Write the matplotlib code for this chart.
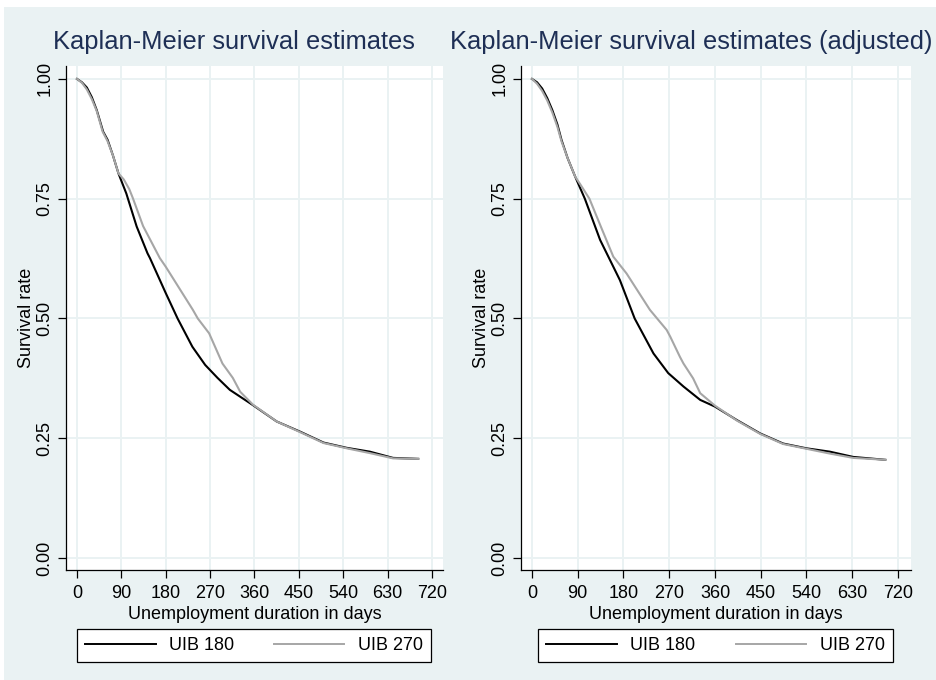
import numpy as np
import matplotlib.pyplot as plt
from matplotlib.patches import Rectangle

plt.rcParams['font.family'] = ['Liberation Sans', 'DejaVu Sans']

BG = '#EAF2F3'
NAVY = '#1E2F55'
GRAY = '#A6A6A6'

# Kaplan-Meier estimates (days, survival) by benefit entitlement
km_days_180 = [0, 10, 20, 30, 40, 53, 62, 73, 84, 100, 121, 143, 148, 180, 204,
               234, 260, 285, 310, 357, 405, 452, 500, 547, 594, 641, 692]
km_surv_180 = [1.0, 0.993, 0.982, 0.962, 0.935, 0.890, 0.873, 0.840, 0.803, 0.761,
               0.692, 0.636, 0.626, 0.553, 0.500, 0.441, 0.403, 0.376, 0.351, 0.319,
               0.285, 0.264, 0.241, 0.230, 0.222, 0.209, 0.207]
km_days_270 = [0, 10, 20, 30, 40, 52, 62, 73, 84, 95, 106, 113, 134, 168, 180,
               235, 245, 268, 295, 316, 331, 357, 405, 452, 500, 547, 594, 641, 692]
km_surv_270 = [1.0, 0.992, 0.978, 0.958, 0.933, 0.890, 0.870, 0.840, 0.803, 0.790,
               0.770, 0.752, 0.693, 0.626, 0.608, 0.518, 0.500, 0.469, 0.406, 0.376,
               0.347, 0.320, 0.285, 0.263, 0.240, 0.229, 0.219, 0.208, 0.207]

# adjusted estimates
adj_days_180 = [0, 10, 20, 30, 40, 50, 58, 70, 85, 104, 134, 173, 202, 239, 268,
                298, 331, 360, 403, 449, 494, 540, 586, 632, 695]
adj_surv_180 = [1.0, 0.993, 0.980, 0.960, 0.935, 0.905, 0.873, 0.835, 0.796, 0.750,
                0.664, 0.580, 0.500, 0.427, 0.386, 0.358, 0.330, 0.316, 0.288, 0.260,
                0.239, 0.229, 0.222, 0.211, 0.205]
adj_days_270 = [0, 10, 20, 30, 40, 50, 58, 70, 85, 95, 113, 135, 160, 186, 232,
                265, 272, 291, 298, 317, 331, 360, 403, 449, 494, 540, 586, 632, 695]
adj_surv_270 = [1.0, 0.990, 0.975, 0.955, 0.930, 0.900, 0.870, 0.835, 0.796, 0.780,
                0.750, 0.693, 0.629, 0.594, 0.518, 0.476, 0.462, 0.420, 0.406, 0.375,
                0.344, 0.318, 0.287, 0.259, 0.238, 0.228, 0.218, 0.209, 0.205]

titles = ['Kaplan-Meier survival estimates',
          'Kaplan-Meier survival estimates (adjusted)']
labels = ['UIB 180', 'UIB 270']
xticks = np.arange(0, 721, 90)
yticks = [0, 0.25, 0.5, 0.75, 1.0]

W, H = 937, 680
fig = plt.figure(figsize=(W / 100, H / 100), dpi=100, facecolor='white')
fig.patches.append(Rectangle((4 / W, 0), 1, 1 - 7 / H, transform=fig.transFigure,
                             facecolor=BG, edgecolor='none', zorder=-10))


def panel(rect, xlim, series, title, title_x):
    ax = fig.add_axes([rect[0] / W, 1 - rect[3] / H,
                       (rect[2] - rect[0]) / W, (rect[3] - rect[1]) / H])
    ax.set_facecolor('white')
    for (d, s), col in zip(series, ['black', GRAY]):
        ax.plot(d, s, color=col, lw=1.5, zorder=3)
    ax.set_xlim(*xlim)
    ax.set_ylim(-0.025, 1.027)
    ax.set_xticks(xticks)
    ax.set_yticks(yticks)
    ax.set_yticklabels(['%.2f' % v for v in yticks], rotation=90, va='center')
    ax.grid(True, color=BG, lw=1.4)
    ax.set_axisbelow(True)
    for side in ['top', 'right']:
        ax.spines[side].set_visible(False)
    for side in ['left', 'bottom']:
        ax.spines[side].set_color('black')
        ax.spines[side].set_linewidth(0.9)
    ax.tick_params(labelsize=13, length=6, width=0.9, pad=3, colors='black')
    ax.tick_params(axis='x', pad=4.5)
    ax.set_xlabel('Unemployment duration in days', fontsize=13, labelpad=3)
    ax.set_ylabel('Survival rate', fontsize=13, labelpad=1)
    fig.text(title_x / W, 1 - 49 / H, title, fontsize=18.4, color=NAVY,
             ha='center', va='baseline')
    return ax


ax1 = panel((66, 66, 443, 570), (-22.3, 742.3),
            [(km_days_180, km_surv_180), (km_days_270, km_surv_270)],
            titles[0], 233.5)
ax2 = panel((521, 66, 911, 570), (-21.6, 745.6),
            [(adj_days_180, adj_surv_180), (adj_days_270, adj_surv_270)],
            titles[1], 691.5)

for ax, (x0, x1) in [(ax1, (77, 431)), (ax2, (538, 893))]:
    pos = ax.get_position()
    leg = ax.legend(ax.get_lines(), labels, loc='upper left', ncol=2, mode='expand',
                    bbox_to_anchor=((x0 / W - pos.x0) / pos.width, -59 / 504,
                                    (x1 - x0) / W / pos.width, 0),
                    fontsize=13, handlelength=3.9, handletextpad=0.75,
                    borderpad=0.45, borderaxespad=0, fancybox=False,
                    framealpha=1, edgecolor='black')
    leg.get_frame().set_linewidth(0.9)
    for ln in leg.get_lines():
        ln.set_linewidth(1.4)

fig.savefig('out.png', dpi=100, facecolor=fig.get_facecolor())
